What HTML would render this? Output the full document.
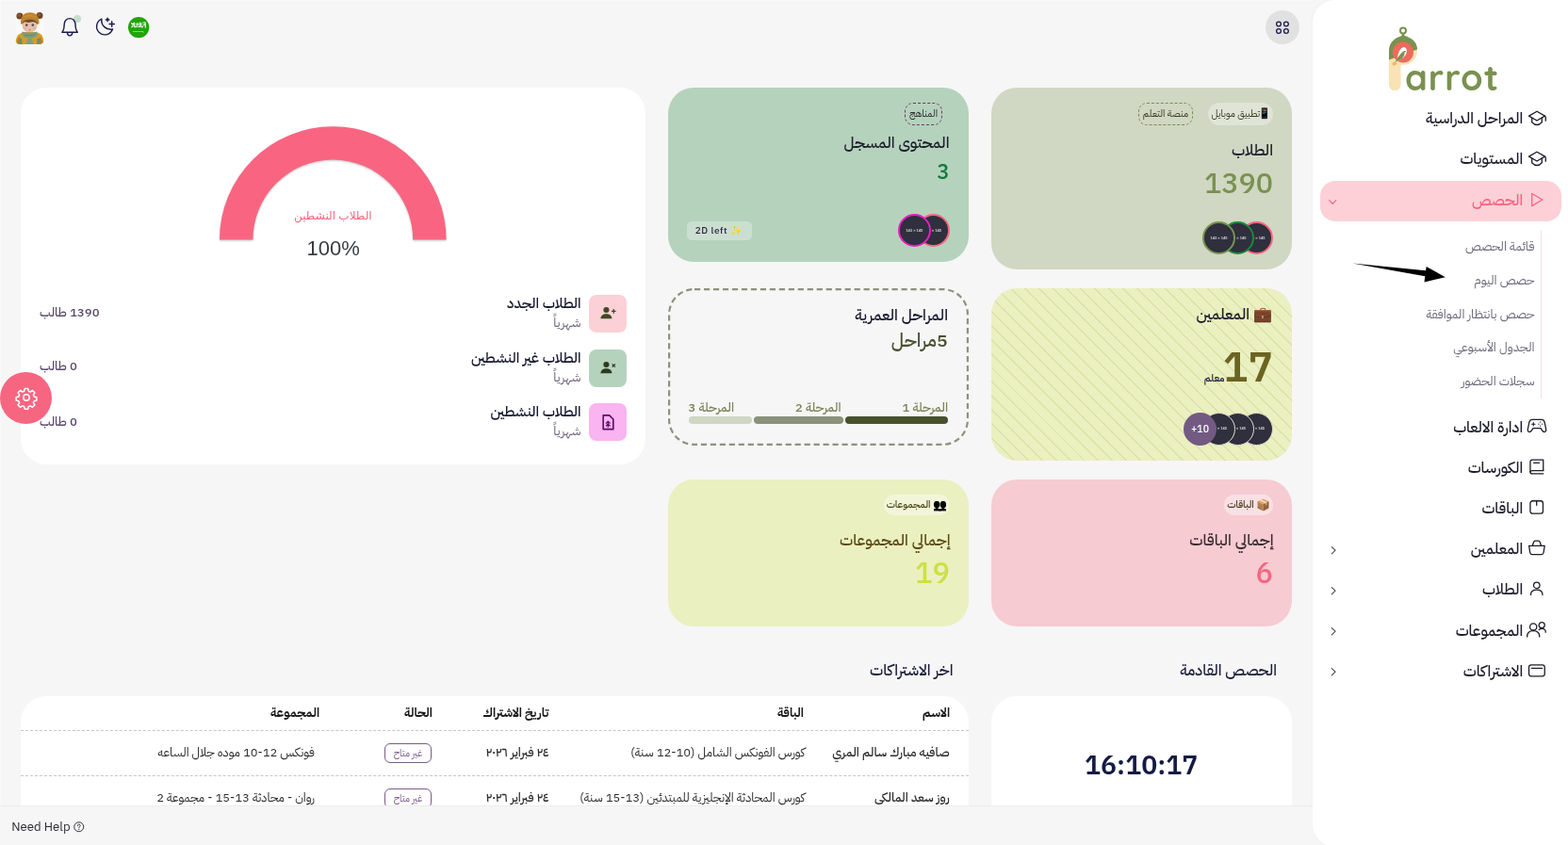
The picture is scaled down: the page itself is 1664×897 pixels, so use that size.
<!DOCTYPE html>
<html lang="ar" dir="rtl">
<head>
<meta charset="utf-8">
<title>Parrot</title>
<style>
*{box-sizing:border-box;margin:0;padding:0}
html,body{width:1664px;height:897px;overflow:hidden;background:#f6f6f6}
body{position:relative;font-family:"IBM Plex Sans Arabic","Liberation Sans","DejaVu Sans",sans-serif;color:#1c1c2b;font-size:14px;direction:rtl}
svg{display:block;overflow:visible}
.av{position:absolute;width:35px;height:35px;border-radius:50%;background:#2f2f3d;border:2px solid #fff;color:#d4d4dc;font-family:"Liberation Sans","DejaVu Sans",sans-serif;font-weight:700;font-size:4px;line-height:31px;text-align:center;white-space:nowrap;overflow:hidden;direction:ltr}
.chip{position:absolute;white-space:nowrap;text-align:center;direction:rtl}
</style>
</head>
<body>
<div style="position:absolute;left:1393px;top:0px;width:271px;height:899px;background:#fff;border-radius:0px;border-radius:24px 0 0 24px;box-shadow:-1px 0 4px rgba(0,0,0,.025);"></div>
<svg style="position:absolute;left:1469px;top:24px;" width="124" height="78" viewBox="0 0 124 78">
<text font-family="'Quicksand','Varela Round','Nunito','Liberation Sans',sans-serif" font-weight="700" fill="#7a9150" direction="ltr" text-anchor="start"><tspan x="7" y="48.500" font-size="40" fill="#f9e2b5">P</tspan><tspan x="22" y="72" font-size="38" letter-spacing="1">arrot</tspan></text>
<circle cx="20" cy="8.600" r="3" fill="none" stroke="#7a9150" stroke-width="2"/><rect x="18.600" y="11.500" width="2.800" height="3.500" fill="#7a9150"/>
<path d="M5 66 V30 A15 15 0 0 1 35 30 A15 15 0 0 1 20 45 H17.500 V66 A6.250 6.250 0 0 1 5 66 Z" fill="#f9e2b5"/>
<path d="M5 39.500 V30 Q5 17.500 20 13.500 Q35 17.500 35 28.500 Z" fill="#7a9150"/>
<circle cx="20" cy="31.500" r="11" fill="#ee6a5a"/>
<path d="M13.500 40 Q15 27 20.500 26 Q25 26.500 23.500 32.500 Q21.500 38 13.500 41 Z" fill="#fff"/>
<path d="M11.500 42 Q16.500 32.500 21 30 Q23 34 18.500 38.500 Z" fill="#7a9150"/><circle cx="22" cy="30.800" r=".700" fill="#2f2f3d"/>
<path d="M8.500 43 l3 -2 l2 3 l-4 2 Z" fill="#f3b562"/>
</svg>
<svg style="position:absolute;left:1621px;top:114.4px;" width="20" height="20" viewBox="0 0 20 20"><g fill="none" stroke="#1c1c2b" stroke-width="1.300" stroke-linecap="round" stroke-linejoin="round"><path d="M1.500 9.100 L10 4.200 L18.500 9.100 L10 14 Z"/><path d="M4.700 11.200 V15.700 Q10 21.300 15.300 15.700 V11.200"/><path d="M18.500 9.100 Q19.300 9.600 19.300 10.800 V14.200"/></g></svg>
<div style="position:absolute;top:114.47px;height:24px;line-height:24px;font-size:16.2px;color:#1c1c2b;font-weight:500;white-space:nowrap;right:47.80px;">المراحل الدراسية</div>
<svg style="position:absolute;left:1621px;top:157.4px;" width="20" height="20" viewBox="0 0 20 20"><g fill="none" stroke="#1c1c2b" stroke-width="1.300" stroke-linecap="round" stroke-linejoin="round"><path d="M1.500 9.100 L10 4.200 L18.500 9.100 L10 14 Z"/><path d="M4.700 11.200 V15.700 Q10 21.300 15.300 15.700 V11.200"/><path d="M18.500 9.100 Q19.300 9.600 19.300 10.800 V14.200"/></g></svg>
<div style="position:absolute;top:157.47px;height:24px;line-height:24px;font-size:16.2px;color:#1c1c2b;font-weight:500;white-space:nowrap;right:47.80px;">المستويات</div>
<div style="position:absolute;left:1401px;top:192px;width:256px;height:43px;background:#fdd0d7;border-radius:16px;"></div>
<svg style="position:absolute;left:1621px;top:200.5px;" width="20" height="20" viewBox="0 0 20 20"><g fill="none" stroke="#f76681" stroke-width="1.300" stroke-linecap="round" stroke-linejoin="round"><path d="M4.700 4.500 L15.900 11.050 L4.700 17.600 Z"/></g></svg>
<div style="position:absolute;top:200.57px;height:24px;line-height:24px;font-size:16.2px;color:#f76681;font-weight:500;white-space:nowrap;right:47.80px;">الحصص</div>
<svg style="position:absolute;left:1409.3px;top:209.2px;" width="10.4" height="10.4" viewBox="0 0 10 10"><path d="M1.500 3.500 5 7l3.500-3.500" fill="none" stroke="#f76681" stroke-width="1.200" stroke-linecap="round" stroke-linejoin="round"/></svg>
<div style="position:absolute;left:1634.6px;top:245px;width:1.8px;height:178px;background:#fcdde2;border-radius:0px;"></div>
<div style="position:absolute;top:251.51px;height:20px;line-height:20px;font-size:13.4px;color:#6d6b7d;font-weight:400;white-space:nowrap;right:35.50px;">قائمة الحصص</div>
<div style="position:absolute;top:287.51px;height:20px;line-height:20px;font-size:13.4px;color:#6d6b7d;font-weight:400;white-space:nowrap;right:35.50px;">حصص اليوم</div>
<div style="position:absolute;top:323.51px;height:20px;line-height:20px;font-size:13.4px;color:#6d6b7d;font-weight:400;white-space:nowrap;right:35.50px;">حصص بانتظار الموافقة</div>
<div style="position:absolute;top:358.51px;height:20px;line-height:20px;font-size:13.4px;color:#6d6b7d;font-weight:400;white-space:nowrap;right:35.50px;">الجدول الأسبوعي</div>
<div style="position:absolute;top:394.51px;height:20px;line-height:20px;font-size:13.4px;color:#6d6b7d;font-weight:400;white-space:nowrap;right:35.50px;">سجلات الحضور</div>
<svg style="position:absolute;left:0px;top:0px;pointer-events:none;" width="1664" height="897" viewBox="0 0 1664 897"><path d="M1435.300 279.400 L1513 287.300 L1513.700 283 L1533.800 294.200 L1511.500 299.500 L1512.300 293.200 Z" fill="#000"/></svg>
<svg style="position:absolute;left:1621px;top:442.1px;" width="20" height="20" viewBox="0 0 20 20"><g fill="none" stroke="#1c1c2b" stroke-width="1.300" stroke-linecap="round" stroke-linejoin="round"><path d="M5.400 3.400 H14.600 Q17.500 3.400 18.200 6.300 L19.600 13.300 Q20.100 16.500 17.900 16.500 Q16.600 16.500 15.700 15.100 L14.100 12.700 H5.900 L4.300 15.100 Q3.400 16.500 2.100 16.500 Q-.100 16.500 .400 13.300 L1.800 6.300 Q2.500 3.400 5.400 3.400 Z"/><path d="M6.300 6.600 V10 M4.600 8.300 H8" stroke-width="1.100"/><path d="M13.700 6 v.100 M13.700 10.200 v.100 M11.900 8.100 v.100 M15.500 8.100 v.100" stroke-width="1.300"/></g></svg>
<div style="position:absolute;top:442.17px;height:24px;line-height:24px;font-size:16.2px;color:#1c1c2b;font-weight:500;white-space:nowrap;right:47.80px;">ادارة الالعاب</div>
<svg style="position:absolute;left:1621px;top:485.0px;" width="20" height="20" viewBox="0 0 20 20"><g fill="none" stroke="#1c1c2b" stroke-width="1.300" stroke-linecap="round" stroke-linejoin="round"><path d="M16.750 14.600 V3.050 H5.200 Q2.950 3.050 2.950 5.300 V15.900"/><path d="M16.750 14.600 H5.100 Q2.950 14.600 2.950 16.300 Q2.950 17.950 5.100 17.950 H16.750"/><path d="M6.600 6.300 H12.600"/></g></svg>
<div style="position:absolute;top:485.07px;height:24px;line-height:24px;font-size:16.2px;color:#1c1c2b;font-weight:500;white-space:nowrap;right:47.80px;">الكورسات</div>
<svg style="position:absolute;left:1621px;top:528.0px;" width="20" height="20" viewBox="0 0 20 20"><g fill="none" stroke="#1c1c2b" stroke-width="1.300" stroke-linecap="round" stroke-linejoin="round"><rect x="2.950" y="3.750" width="13.500" height="13.400" rx="2.400"/><path d="M9.700 3.750 V8.300"/></g></svg>
<div style="position:absolute;top:528.07px;height:24px;line-height:24px;font-size:16.2px;color:#1c1c2b;font-weight:500;white-space:nowrap;right:47.80px;">الباقات</div>
<svg style="position:absolute;left:1621px;top:571.2px;" width="20" height="20" viewBox="0 0 20 20"><g fill="none" stroke="#1c1c2b" stroke-width="1.300" stroke-linecap="round" stroke-linejoin="round"><path d="M1.600 8.300 H18.200 L17.100 15.500 Q16.800 17.550 14.800 17.550 H5 Q3 17.550 2.700 15.500 Z"/><path d="M5.300 8.300 L6.500 4.500 Q6.900 3.050 8.300 3.050 H11.500 Q12.900 3.050 13.300 4.500 L14.500 8.300"/></g></svg>
<div style="position:absolute;top:571.27px;height:24px;line-height:24px;font-size:16.2px;color:#1c1c2b;font-weight:500;white-space:nowrap;right:47.80px;">المعلمين</div>
<svg style="position:absolute;left:1409.6px;top:578.9px;" width="10.4" height="10.4" viewBox="0 0 10 10"><path d="M3.200 1.500 L6.800 5 L3.200 8.500" fill="none" stroke="#4b4b58" stroke-width="1.150" stroke-linecap="round" stroke-linejoin="round"/></svg>
<svg style="position:absolute;left:1621px;top:614.4px;" width="20" height="20" viewBox="0 0 20 20"><g fill="none" stroke="#1c1c2b" stroke-width="1.300" stroke-linecap="round" stroke-linejoin="round"><circle cx="9.750" cy="7.300" r="3.250"/><path d="M3.500 17.400 Q3.500 12.100 9.750 12.100 Q16 12.100 16 17.400"/></g></svg>
<div style="position:absolute;top:614.47px;height:24px;line-height:24px;font-size:16.2px;color:#1c1c2b;font-weight:500;white-space:nowrap;right:47.80px;">الطلاب</div>
<svg style="position:absolute;left:1409.6px;top:621.9px;" width="10.4" height="10.4" viewBox="0 0 10 10"><path d="M3.200 1.500 L6.800 5 L3.200 8.500" fill="none" stroke="#4b4b58" stroke-width="1.150" stroke-linecap="round" stroke-linejoin="round"/></svg>
<svg style="position:absolute;left:1621px;top:657.8px;" width="20" height="20" viewBox="0 0 20 20"><g fill="none" stroke="#1c1c2b" stroke-width="1.300" stroke-linecap="round" stroke-linejoin="round"><circle cx="6.200" cy="7.400" r="3.600"/><path d="M-.400 17.900 Q-.400 11.700 6.200 11.700 Q12.800 11.700 12.800 17.900"/><circle cx="15.200" cy="5.600" r="3.050"/><path d="M12.300 10.500 Q13.500 9.400 15.400 9.400 Q19.400 9.400 19.300 13.200"/></g></svg>
<div style="position:absolute;top:657.87px;height:24px;line-height:24px;font-size:16.2px;color:#1c1c2b;font-weight:500;white-space:nowrap;right:47.80px;">المجموعات</div>
<svg style="position:absolute;left:1409.6px;top:664.8px;" width="10.4" height="10.4" viewBox="0 0 10 10"><path d="M3.200 1.500 L6.800 5 L3.200 8.500" fill="none" stroke="#4b4b58" stroke-width="1.150" stroke-linecap="round" stroke-linejoin="round"/></svg>
<svg style="position:absolute;left:1621px;top:700.8px;" width="20" height="20" viewBox="0 0 20 20"><g fill="none" stroke="#1c1c2b" stroke-width="1.300" stroke-linecap="round" stroke-linejoin="round"><rect x="1.550" y="4.850" width="16.700" height="12" rx="2.500"/><path d="M4.300 8.400 H15.600"/></g></svg>
<div style="position:absolute;top:700.87px;height:24px;line-height:24px;font-size:16.2px;color:#1c1c2b;font-weight:500;white-space:nowrap;right:47.80px;">الاشتراكات</div>
<svg style="position:absolute;left:1409.6px;top:707.6999999999999px;" width="10.4" height="10.4" viewBox="0 0 10 10"><path d="M3.200 1.500 L6.800 5 L3.200 8.500" fill="none" stroke="#4b4b58" stroke-width="1.150" stroke-linecap="round" stroke-linejoin="round"/></svg>
<div style="position:absolute;left:0px;top:0px;width:1393px;height:1px;background:#f9f9f9;border-radius:0px;"></div>
<div style="position:absolute;left:0px;top:0px;width:1px;height:855px;background:#f9f9f9;border-radius:0px;"></div>
<div style="position:absolute;left:16.5px;top:12.5px;width:30.5px;height:34.5px;background:rgba(255,255,255,.3);border-radius:5px;"></div>
<div style="position:absolute;left:16px;top:12px;width:31px;height:34.800px;overflow:hidden;border-radius:0 0 5px 5px">
<svg style="position:absolute;left:0px;top:0px;" width="31" height="35" viewBox="0 0 31 35">
<g>
<circle cx="4.900" cy="5" r="3.500" fill="#70441f"/><circle cx="26" cy="4.500" r="3.500" fill="#70441f"/>
<circle cx="4.300" cy="4.300" r="1.800" fill="#8a5a30"/><circle cx="25.400" cy="3.800" r="1.800" fill="#8a5a30"/>
<path d="M6 13.500 Q5.500 1.300 15.700 1.300 Q25.900 1.300 25.400 13.500 Z" fill="#bd842f"/>
<path d="M8 6 Q15.700 2.500 23.500 6 Q15.700 4.300 8 6 Z" fill="#d29a45"/>
<ellipse cx="15.500" cy="15.600" rx="7.900" ry="6.900" fill="#e6c0a4"/>
<path d="M7 14.500 Q7.500 9 15.600 8.600 Q23.800 9 24.300 14.500 Q22.500 10.800 18 11.200 Q14 12.500 11.500 11.300 Q8.500 11 7 14.500 Z" fill="#7a4926"/>
<ellipse cx="12.200" cy="14.600" rx="1.250" ry="1.400" fill="#46506b"/><ellipse cx="18.800" cy="14.600" rx="1.250" ry="1.400" fill="#46506b"/>
<ellipse cx="10.300" cy="17.800" rx="1.700" ry="1.100" fill="#e3a99a" opacity=".7"/><ellipse cx="20.700" cy="17.800" rx="1.700" ry="1.100" fill="#e3a99a" opacity=".7"/>
<ellipse cx="15.500" cy="19.800" rx="1" ry=".600" fill="#c9675f"/>
<path d="M.500 35 Q.500 27 4 24.500 Q7 22 11 22 H20 Q25 22 27.500 24.500 Q30.500 27 30.500 35 Z" fill="#d39c2e"/>
<path d="M2 35 Q2 29 5 27 L8 35 Z" fill="#b67f22"/><path d="M29 35 Q29 29 26 27 L23 35 Z" fill="#b67f22"/>
<path d="M7.500 21.500 Q15.500 24 23.300 21.500 Q24.500 25 22.500 27 Q19 29 17.500 28 L19.500 35 H11.500 L13.500 28 Q10 28.500 8.500 26.500 Q6.800 24.500 7.500 21.500 Z" fill="#7f9d7c"/>
<path d="M10 25 Q15 27 21 24.500" stroke="#65836a" stroke-width=".800" fill="none"/>
<rect x="4.300" y="29" width="3" height="6" fill="#6e8d70"/><rect x="23.300" y="29" width="3" height="6" fill="#6e8d70"/>
</g>
</svg>
</div>
<div style="position:absolute;left:78.300px;top:16px;width:7.800px;height:7.800px;border-radius:50%;background:#c6ddcb"></div>
<svg style="position:absolute;left:64px;top:18px;" width="20" height="21" viewBox="0 0 20 21"><g fill="none" stroke="#1a1a4e" stroke-width="1.400" stroke-linecap="round" stroke-linejoin="round">
<path d="M1.900 16.300 H18.300 C17.300 14.800 16.600 13.600 16.400 12 L15.900 7.400 A5.800 5.800 0 0 0 4.300 7.400 L3.800 12 C3.600 13.600 2.900 14.800 1.900 16.300 Z" fill="#f6f6f6"/>
<path d="M7.400 16.800 C7.600 19 8.800 19.900 10.100 19.900 C11.400 19.900 12.600 19 12.800 16.800"/></g></svg>
<svg style="position:absolute;left:101px;top:18px;" width="22" height="21" viewBox="0 0 22 21"><g fill="none" stroke="#1a1a4e" stroke-width="1.400" stroke-linecap="round" stroke-linejoin="round">
<path d="M6.900 2.100 A8.700 8.700 0 1 0 18.500 13 A9.600 9.600 0 0 1 6.900 2.100 Z"/>
<path d="M17.700 4.800 V10.200 M15 7.500 H20.400"/></g>
<path d="M13.100 .500 L13.900 2.100 L15.500 2.900 L13.900 3.700 L13.100 5.300 L12.300 3.700 L10.700 2.900 L12.300 2.100 Z" fill="#1a1a4e" stroke="#1a1a4e" stroke-width=".500" stroke-linejoin="round"/></svg>
<svg style="position:absolute;left:136px;top:18px;" width="22.3" height="22.3" viewBox="0 0 22.300 22.300"><circle cx="11.150" cy="11.050" r="11.150" fill="#21a408"/>
<g fill="none" stroke="#fff" stroke-width="1.150" stroke-linecap="round" stroke-linejoin="round" opacity=".95">
<path d="M3.600 6.600 q.800 1.800 1.800 .200 q.300 2.300 -1.600 3.900"/><path d="M6.700 6 v4.500 q1.200 .800 1.800 -.600"/><path d="M8.700 7.700 q1.200 -1.800 2.100 0 q-.900 1.800 -2.100 0 M9.500 10.300 h2.300"/>
<path d="M12.400 6 v4.400 M13.900 6.400 v4.200 q1.100 .700 1.700 -.500"/><path d="M16 6 q1.600 .300 2.300 0 v5.200 M16.400 8.400 h1.700"/></g>
<path d="M4.800 15.400 H16.400 V16.800 L15.300 16.100 H4.800 Z" fill="#fff" opacity=".9"/></svg>
<div style="position:absolute;left:1343.300px;top:11px;width:35.800px;height:35.800px;border-radius:50%;background:#e1e1e1"></div>
<svg style="position:absolute;left:1353px;top:21px;" width="16" height="16" viewBox="0 0 16 16"><g fill="none" stroke="#1a1a4e" stroke-width="1.300"><circle cx="4" cy="4.500" r="2.400"/><circle cx="11.900" cy="4.500" r="2.400"/><circle cx="4" cy="12" r="2.400"/><circle cx="11.900" cy="12" r="2.400"/></g></svg>
<div style="position:absolute;left:1052px;top:93px;width:319px;height:193px;background:#d0d7c3;border-radius:27.5px;"></div>
<div class="chip" style="left:1282px;top:109px;width:69px;height:24px;line-height:24px;border-radius:12.0px;background:rgba(255,255,255,.32);font-size:10.5px;color:#3a3a22;padding-left:1px;"><span style="font-size:11px;margin-left:-2.5px">📱</span>تطبيق موبايل</div>
<div class="chip" style="left:1208px;top:109px;width:58px;height:24px;line-height:22px;border-radius:9px;background:transparent;border:1px dashed #7a8f4f;font-size:10.5px;color:#3a3a22;">منصة التعلم</div>
<div style="position:absolute;top:146.97px;height:25px;line-height:25px;font-size:16.5px;color:#1c1c2b;font-weight:500;white-space:nowrap;right:313.00px;">الطلاب</div>
<div style="position:absolute;top:171.82px;height:46px;line-height:46px;font-size:30.4px;color:#7a9150;font-weight:500;white-space:nowrap;right:313.00px;direction:ltr;">1390</div>
<div class="av" style="left:1316.0px;top:235.0px;border-color:#f76681;background:#2f2f3d;">143 × 145</div>
<div class="av" style="left:1296.0px;top:235.0px;border-color:#1a8a3a;background:#2f2f3d;">143 × 145</div>
<div class="av" style="left:1276.0px;top:235.0px;border-color:#7a9150;background:#2f2f3d;">143 × 145</div>
<div style="position:absolute;left:709px;top:93px;width:319px;height:185px;background:#b5d2bd;border-radius:27.5px;"></div>
<div class="chip" style="left:960px;top:109px;width:40px;height:24px;line-height:22px;border-radius:9px;background:transparent;border:1px dashed #6b3b5b;font-size:10.5px;color:#2e2a2e;">المناهج</div>
<div style="position:absolute;top:138.87px;height:25px;line-height:25px;font-size:16.5px;color:#1c1c2b;font-weight:500;white-space:nowrap;right:656.50px;">المحتوى المسجل</div>
<div style="position:absolute;top:165.93px;height:33px;line-height:33px;font-size:22px;color:#0f7a3c;font-weight:500;white-space:nowrap;right:656.50px;direction:ltr;">3</div>
<div class="av" style="left:972.5px;top:226.8px;border-color:#f76681;background:#2f2f3d;">143 × 145</div>
<div class="av" style="left:952.8px;top:226.8px;border-color:#e91cc1;background:#2f2f3d;">143 × 145</div>
<div class="chip" style="left:729px;top:235px;width:69px;height:20px;line-height:20px;border-radius:5.5px;background:rgba(255,255,255,.3);font-size:10px;color:#2a1d3d;direction:ltr;padding-right:2.6px;"><span style="letter-spacing:.55px;font-weight:500">2D left</span> ✨</div>
<div style="position:absolute;left:1052px;top:306px;width:319px;height:183px;background:#eaf0c0;border-radius:27.5px;background-image:repeating-linear-gradient(45deg,transparent 0,transparent 6.07px,rgba(165,158,60,.18) 6.07px,rgba(165,158,60,.18) 7.47px,transparent 7.47px,transparent 10.54px);"></div>
<div style="position:absolute;top:320.77px;height:25px;line-height:25px;font-size:16.5px;color:#1c1c2b;font-weight:500;white-space:nowrap;right:314.00px;"><span style="font-size:16px">💼</span> المعلمين</div>
<div style="position:absolute;top:357.36px;height:66px;line-height:66px;font-size:44.3px;color:#6b6420;font-weight:600;white-space:nowrap;right:313.00px;direction:ltr;">17</div>
<div style="position:absolute;top:393.92px;height:16px;line-height:16px;font-size:11px;color:#1c1c3b;font-weight:500;white-space:nowrap;right:364.50px;">معلم</div>
<div class="av" style="left:1315.5px;top:438.3px;border-color:#e6dfcd;background:#2f2f3d;border-width:1.6px;line-height:31.8px;">143 × 145</div>
<div class="av" style="left:1295.5px;top:438.3px;border-color:#e6dfcd;background:#2f2f3d;border-width:1.6px;line-height:31.8px;">143 × 145</div>
<div class="av" style="left:1275.5px;top:438.3px;border-color:#e6dfcd;background:#2f2f3d;border-width:1.6px;line-height:31.8px;">143 × 145</div>
<div class="av" style="left:1256px;top:438.3px;border:0;background:#735a82;color:#fff;font-family:inherit;font-weight:500;font-size:10.5px;line-height:35px;">+10</div>
<svg style="position:absolute;left:709px;top:306px;" width="319" height="167" viewBox="0 0 319 167"><rect x="1.100" y="1.100" width="316.800" height="164.800" rx="26.400" fill="none" stroke="#8c937d" stroke-width="2.200" stroke-dasharray="6.200 3.777" stroke-dashoffset="-0.500"/></svg>
<div style="position:absolute;top:322.47px;height:25px;line-height:25px;font-size:16.5px;color:#15152e;font-weight:500;white-space:nowrap;right:658.00px;">المراحل العمرية</div>
<div style="position:absolute;top:345.80px;height:30px;line-height:30px;font-size:20px;color:#485030;font-weight:500;white-space:nowrap;right:658.00px;">5مراحل</div>
<div style="position:absolute;top:422.94px;height:20px;line-height:20px;font-size:13.3px;color:#7d8355;font-weight:500;white-space:nowrap;right:658.00px;">المرحلة 1</div>
<div style="position:absolute;top:422.94px;height:20px;line-height:20px;font-size:13.3px;color:#7d8355;font-weight:500;white-space:nowrap;right:771.50px;">المرحلة 2</div>
<div style="position:absolute;top:422.94px;height:20px;line-height:20px;font-size:13.3px;color:#7d8355;font-weight:500;white-space:nowrap;right:885.00px;">المرحلة 3</div>
<div style="position:absolute;left:897px;top:442.4px;width:109px;height:7.6px;background:#47522d;border-radius:4px;"></div>
<div style="position:absolute;left:800px;top:442.4px;width:95px;height:7.6px;background:#8a927b;border-radius:4px;"></div>
<div style="position:absolute;left:731px;top:442.4px;width:67px;height:7.6px;background:#d0d6c4;border-radius:4px;"></div>
<div style="position:absolute;left:1052px;top:509.3px;width:319px;height:155.6px;background:#f6cbd2;border-radius:27.5px;"></div>
<div class="chip" style="left:1299.2px;top:525.2px;width:52.09999999999991px;height:21.5px;line-height:21.5px;border-radius:10.75px;background:rgba(255,255,255,.4);font-size:10.6px;color:#4a3a1a;font-weight:500;"><span style="font-size:12px;vertical-align:-1px">📦</span> الباقات</div>
<div style="position:absolute;top:561.47px;height:25px;line-height:25px;font-size:16.5px;color:#3a2b2e;font-weight:500;white-space:nowrap;right:312.50px;">إجمالي الباقات</div>
<div style="position:absolute;top:586.18px;height:46px;line-height:46px;font-size:30.8px;color:#f76681;font-weight:500;white-space:nowrap;right:313.00px;direction:ltr;">6</div>
<div style="position:absolute;left:709px;top:509.3px;width:319px;height:155.6px;background:#eaf0c0;border-radius:27.5px;"></div>
<div class="chip" style="left:938.2px;top:525.2px;width:69.39999999999998px;height:21.5px;line-height:21.5px;border-radius:10.75px;background:rgba(255,255,255,.4);font-size:10.6px;color:#4a4418;font-weight:500;"><span style="font-size:12px;vertical-align:-1px;filter:grayscale(1) brightness(.32) contrast(1.4)">👥</span> المجموعات</div>
<div style="position:absolute;top:561.47px;height:25px;line-height:25px;font-size:16.5px;color:#5a4a12;font-weight:500;white-space:nowrap;right:655.50px;">إجمالي المجموعات</div>
<div style="position:absolute;top:586.18px;height:46px;line-height:46px;font-size:30.8px;color:#cde042;font-weight:500;white-space:nowrap;right:656.00px;direction:ltr;">19</div>
<div style="position:absolute;left:22px;top:93px;width:663px;height:400px;background:#fff;border-radius:27.5px;"></div>
<svg style="position:absolute;left:223px;top:124px;filter:drop-shadow(0 1.500px 1.200px rgba(0,0,0,.24));" width="260" height="140" viewBox="0 0 260 140"><path d="M10 130.500 A120.300 120.300 0 0 1 250.600 130.500 L215.200 130.500 A84.900 84.900 0 0 0 45.400 130.500 Z" fill="#f96581"/></svg>
<div style="position:absolute;top:219.54px;height:18px;line-height:18px;font-size:12px;color:#f76681;font-weight:400;white-space:nowrap;left:53.40px;width:600px;text-align:center;font-family:'Liberation Sans','DejaVu Sans',sans-serif;">الطلاب النشطين</div>
<div style="position:absolute;top:246.78px;height:33px;line-height:33px;font-size:22px;color:#373d3f;font-weight:400;white-space:nowrap;left:53.60px;width:600px;text-align:center;font-family:'Liberation Sans','DejaVu Sans',sans-serif;direction:ltr;">100%</div>
<div style="position:absolute;left:625px;top:313px;width:40px;height:40px;background:#fbd0d6;border-radius:8px;"></div>
<svg style="position:absolute;left:636px;top:322.5px;" width="18.5" height="18.5" viewBox="0 0 20 20"><g fill="#3f4a22" stroke="#3f4a22" stroke-width="0"><circle cx="8" cy="6.500" r="3.300"/><path d="M1.500 16.500c0-3.600 2.900-5.500 6.500-5.500s6.500 1.900 6.500 5.500Z"/><path d="M16.500 5.500v5M14 8h5" fill="none" stroke="#3f4a22" stroke-width="1.400"/></g></svg>
<div style="position:absolute;top:309.97px;height:23px;line-height:23px;font-size:15.3px;color:#15152e;font-weight:500;white-space:nowrap;right:1047.50px;">الطلاب الجدد</div>
<div style="position:absolute;top:332.74px;height:20px;line-height:20px;font-size:13.6px;color:#6f6480;font-weight:400;white-space:nowrap;right:1047.50px;">شهرياً</div>
<div style="position:absolute;top:322.48px;height:20px;line-height:20px;font-size:13.2px;color:#5b4b6b;font-weight:500;white-space:nowrap;left:42.00px;">1390 طالب</div>
<div style="position:absolute;left:625px;top:371px;width:40px;height:40px;background:#b5d2bd;border-radius:8px;"></div>
<svg style="position:absolute;left:636px;top:380.5px;" width="18.5" height="18.5" viewBox="0 0 20 20"><g fill="#2e3a1e" stroke="#2e3a1e" stroke-width="0"><circle cx="8" cy="6.500" r="3.300"/><path d="M1.500 16.500c0-3.600 2.900-5.500 6.500-5.500s6.500 1.900 6.500 5.500Z"/><path d="M14.800 6l3.400 3.400M18.200 6l-3.400 3.400" fill="none" stroke="#2e3a1e" stroke-width="1.300"/></g></svg>
<div style="position:absolute;top:367.97px;height:23px;line-height:23px;font-size:15.3px;color:#15152e;font-weight:500;white-space:nowrap;right:1047.50px;">الطلاب غير النشطين</div>
<div style="position:absolute;top:390.74px;height:20px;line-height:20px;font-size:13.6px;color:#6f6480;font-weight:400;white-space:nowrap;right:1047.50px;">شهرياً</div>
<div style="position:absolute;top:379.48px;height:20px;line-height:20px;font-size:13.2px;color:#5b4b6b;font-weight:500;white-space:nowrap;left:42.00px;">0 طالب</div>
<div style="position:absolute;left:625px;top:428px;width:40px;height:40px;background:#f9b4f1;border-radius:8px;"></div>
<svg style="position:absolute;left:636px;top:438.5px;" width="18.5" height="18.5" viewBox="0 0 20 20"><g fill="#5c0a63" stroke="#5c0a63" stroke-width="0"><path d="M4.500 2h7l4.500 4.500V18h-11.500Z" fill="none" stroke="#5c0a63" stroke-width="1.700" stroke-linejoin="round"/><path d="M10 16v-7M7.500 11.500 10 9l2.500 2.500M7.500 14.500 10 12l2.500 2.500" fill="none" stroke="#5c0a63" stroke-width="1.300"/></g></svg>
<div style="position:absolute;top:424.97px;height:23px;line-height:23px;font-size:15.3px;color:#15152e;font-weight:500;white-space:nowrap;right:1047.50px;">الطلاب النشطين</div>
<div style="position:absolute;top:447.74px;height:20px;line-height:20px;font-size:13.6px;color:#6f6480;font-weight:400;white-space:nowrap;right:1047.50px;">شهرياً</div>
<div style="position:absolute;top:437.58px;height:20px;line-height:20px;font-size:13.2px;color:#5b4b6b;font-weight:500;white-space:nowrap;left:42.00px;">0 طالب</div>
<div style="position:absolute;left:0;top:395px;width:55px;height:55px;border-radius:50%;background:#f76681"></div>
<svg style="position:absolute;left:15.5px;top:409.5px;" width="24" height="24" viewBox="0 0 24 24"><g fill="none" stroke="#fff" stroke-width="1.500" stroke-linejoin="round"><circle cx="12" cy="12" r="3.200"/>
<path d="M10.300 2.500h3.400l.600 2.700 1.900.800 2.300-1.500 2.400 2.400-1.500 2.300.800 1.900 2.700.600v3.400l-2.700.600-.800 1.900 1.500 2.300-2.400 2.400-2.300-1.500-1.900.800-.600 2.700h-3.400l-.600-2.700-1.900-.800-2.300 1.500-2.400-2.400 1.500-2.300-.800-1.900-2.700-.600v-3.400l2.700-.600.800-1.900-1.500-2.300 2.400-2.400 2.300 1.500 1.900-.800Z"/></g></svg>
<div style="position:absolute;top:699.54px;height:24px;line-height:24px;font-size:16.3px;color:#1c1c3b;font-weight:500;white-space:nowrap;right:309.00px;">الحصص القادمة</div>
<div style="position:absolute;top:698.97px;height:25px;line-height:25px;font-size:16.5px;color:#1c1c3b;font-weight:500;white-space:nowrap;right:652.50px;">اخر الاشتراكات</div>
<div style="position:absolute;left:1052px;top:739px;width:319px;height:200px;background:#fff;border-radius:27.5px;"></div>
<div style="position:absolute;top:791.19px;height:43px;line-height:43px;font-size:28.4px;color:#141b44;font-weight:600;white-space:nowrap;left:911.20px;width:600px;text-align:center;direction:ltr;">16:10:17</div>
<div style="position:absolute;left:22px;top:739px;width:1006px;height:200px;background:#fff;border-radius:27.5px;"></div>
<div style="position:absolute;top:747.04px;height:20px;line-height:20px;font-size:13px;color:#1a1a1a;font-weight:700;white-space:nowrap;right:656.00px;">الاسم</div>
<div style="position:absolute;top:747.04px;height:20px;line-height:20px;font-size:13px;color:#1a1a1a;font-weight:700;white-space:nowrap;right:811.20px;">الباقة</div>
<div style="position:absolute;top:747.04px;height:20px;line-height:20px;font-size:13px;color:#1a1a1a;font-weight:700;white-space:nowrap;right:1081.80px;">تاريخ الاشتراك</div>
<div style="position:absolute;top:747.04px;height:20px;line-height:20px;font-size:13px;color:#1a1a1a;font-weight:700;white-space:nowrap;right:1205.20px;">الحالة</div>
<div style="position:absolute;top:747.04px;height:20px;line-height:20px;font-size:13px;color:#1a1a1a;font-weight:700;white-space:nowrap;right:1325.00px;">المجموعة</div>
<div style="position:absolute;left:22px;top:775px;width:1006px;height:0;border-top:1px dashed #c9c2d0"></div>
<div style="position:absolute;left:22px;top:823px;width:1006px;height:0;border-top:1px dashed #c9c2d0"></div>
<div style="position:absolute;top:788.78px;height:20px;line-height:20px;font-size:13.2px;color:#2b2b2b;font-weight:500;white-space:nowrap;right:656.40px;">صافيه مبارك سالم المري</div>
<div style="position:absolute;top:788.85px;height:20px;line-height:20px;font-size:13px;color:#2b2b2b;font-weight:400;white-space:nowrap;right:810.00px;">كورس الفونكس الشامل (10-12 سنة)</div>
<div style="position:absolute;top:788.85px;height:20px;line-height:20px;font-size:13px;color:#2b2b2b;font-weight:500;white-space:nowrap;right:1081.40px;">٢٤ فبراير ٢٠٢٦</div>
<div class="chip" style="left:408px;top:789.0px;width:50px;height:21.0px;line-height:19.0px;border-radius:6px;background:transparent;border:1px solid #7b5c8a;font-size:10.3px;color:#7b5c8a;background:#fff;">غير متاح</div>
<div style="position:absolute;top:788.85px;height:20px;line-height:20px;font-size:13px;color:#2b2b2b;font-weight:400;white-space:nowrap;right:1330.00px;">فونكس 12-10 موده جلال الساعه</div>
<div style="position:absolute;top:836.78px;height:20px;line-height:20px;font-size:13.2px;color:#2b2b2b;font-weight:500;white-space:nowrap;right:656.40px;">روز سعد المالكى</div>
<div style="position:absolute;top:836.85px;height:20px;line-height:20px;font-size:13px;color:#2b2b2b;font-weight:400;white-space:nowrap;right:810.00px;">كورس المحادثة الإنجليزية للمبتدئين (13-15 سنة)</div>
<div style="position:absolute;top:836.85px;height:20px;line-height:20px;font-size:13px;color:#2b2b2b;font-weight:500;white-space:nowrap;right:1081.40px;">٢٤ فبراير ٢٠٢٦</div>
<div class="chip" style="left:408px;top:837.0px;width:50px;height:21.0px;line-height:19.0px;border-radius:6px;background:transparent;border:1px solid #7b5c8a;font-size:10.3px;color:#7b5c8a;background:#fff;">غير متاح</div>
<div style="position:absolute;top:836.85px;height:20px;line-height:20px;font-size:13px;color:#2b2b2b;font-weight:400;white-space:nowrap;right:1330.00px;">روان - محادثة 13-15 - مجموعة 2</div>
<div style="position:absolute;left:0px;top:855px;width:1393px;height:42px;background:#f6f6f6;border-radius:0px;border-top:1px solid #ececec;"></div>
<div style="position:absolute;top:867.58px;height:20px;line-height:20px;font-size:13.2px;color:#2b2b33;font-weight:400;white-space:nowrap;left:12.20px;direction:ltr;">Need Help</div>
<svg style="position:absolute;left:77.5px;top:871.5px;" width="11.5" height="11.5" viewBox="0 0 12 12"><circle cx="6" cy="6" r="5.200" fill="none" stroke="#2b2b33" stroke-width="1"/><path d="M4.500 4.800c0-1 .700-1.600 1.500-1.600s1.500.600 1.500 1.400c0 1.100-1.500 1.200-1.500 2.400" fill="none" stroke="#2b2b33" stroke-width="1" stroke-linecap="round"/><circle cx="6" cy="8.800" r=".600" fill="#2b2b33"/></svg>
</body>
</html>
